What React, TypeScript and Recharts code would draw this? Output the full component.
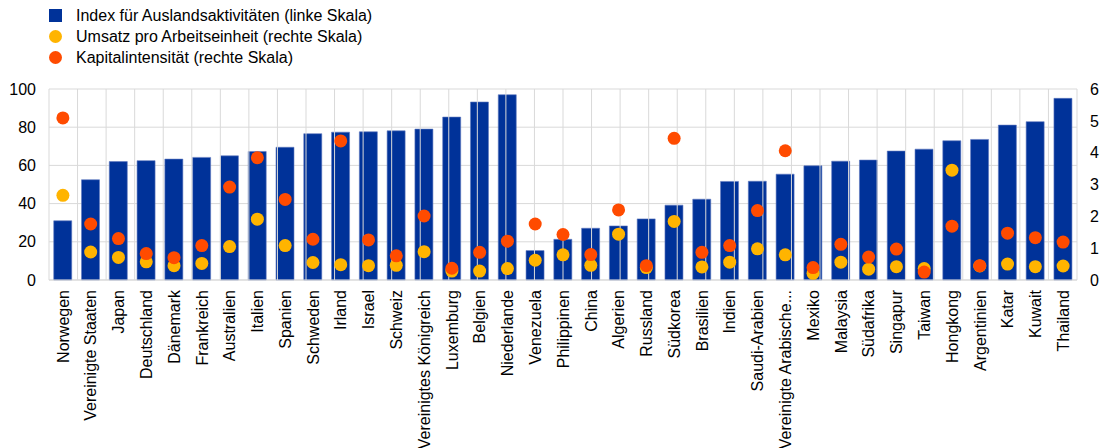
import React from 'react';
import { ComposedChart, Bar, Line, XAxis, YAxis, CartesianGrid, ReferenceLine } from 'recharts';

const laender = [
  'Norwegen', 'Vereinigte Staaten', 'Japan', 'Deutschland', 'Dänemark', 'Frankreich', 'Australien',
  'Italien', 'Spanien', 'Schweden', 'Irland', 'Israel', 'Schweiz', 'Vereinigtes Königreich',
  'Luxemburg', 'Belgien', 'Niederlande', 'Venezuela', 'Philippinen', 'China', 'Algerien',
  'Russland', 'Südkorea', 'Brasilien', 'Indien', 'Saudi-Arabien', 'Vereinigte Arabische...',
  'Mexiko', 'Malaysia', 'Südafrika', 'Singapur', 'Taiwan', 'Hongkong', 'Argentinien',
  'Katar', 'Kuwait', 'Thailand',
];

// linke Skala
const auslandsIndex = [
  31, 52.5, 62, 62.5, 63.3, 64.2, 65, 67.3, 69.5, 76.6, 77.4, 77.6, 78.1, 79, 85.3, 93.2, 97,
  15.4, 21.3, 27.1, 28.3, 32, 39.2, 42.3, 51.6, 51.7, 55.4, 59.8, 62.2, 62.8, 67.5, 68.5,
  72.9, 73.6, 81.1, 82.9, 95.1,
];

// rechte Skala
const umsatz = [
  2.66, 0.88, 0.71, 0.57, 0.45, 0.52, 1.05, 1.91, 1.08, 0.55, 0.48, 0.45, 0.46, 0.89, 0.28,
  0.28, 0.36, 0.62, 0.79, 0.46, 1.44, 0.39, 1.84, 0.41, 0.56, 0.98, 0.79, 0.21, 0.56, 0.34,
  0.42, 0.36, 3.45, 0.44, 0.5, 0.42, 0.44,
];

const kapital = [
  5.09, 1.76, 1.3, 0.83, 0.7, 1.08, 2.92, 3.84, 2.53, 1.28, 4.37, 1.26, 0.76, 2.01, 0.37,
  0.87, 1.22, 1.76, 1.43, 0.8, 2.2, 0.45, 4.45, 0.87, 1.08, 2.18, 4.06, 0.39, 1.12, 0.72,
  0.97, 0.25, 1.69, 0.45, 1.47, 1.33, 1.19,
];

const linksTicks = [0, 20, 40, 60, 80, 100];
const rechtsTicks = [0, 1, 2, 3, 4, 5, 6];
// Grenzen zwischen den Kategorien (fuer das senkrechte Gitter)
const grenzTicks = laender.map((_, i) => i).concat(laender.length);

const BLAU = '#003299';
const GELB = '#FFB400';
const ROT = '#FF4B00';
const GITTER = '#d9d9d9';
const FONT = '"Liberation Sans", Arial, sans-serif';
const SCHRIFT = 16;

const daten = laender.map((land, i) => ({
  land,
  index: auslandsIndex[i],
  umsatz: umsatz[i],
  kapital: kapital[i],
}));

const legendeEintraege = [
  { name: 'Index für Auslandsaktivitäten (linke Skala)', farbe: BLAU, form: 'square' },
  { name: 'Umsatz pro Arbeitseinheit (rechte Skala)', farbe: GELB, form: 'circle' },
  { name: 'Kapitalintensität (rechte Skala)', farbe: ROT, form: 'circle' },
];

const Legende = () => (
  <div style={{ position: 'absolute', left: 49, top: 5, fontFamily: FONT, fontSize: SCHRIFT, color: '#000' }}>
    {legendeEintraege.map((e) => (
      <div key={e.name} style={{ display: 'flex', alignItems: 'center', height: 21, whiteSpace: 'nowrap' }}>
        <span
          style={{
            display: 'inline-block',
            width: 13,
            height: 13,
            background: e.farbe,
            borderRadius: e.form === 'circle' ? '50%' : 0,
            marginRight: 14,
          }}
        />
        <span>{e.name}</span>
      </div>
    ))}
  </div>
);

const LandTick = (props: any) => {
  const { x, y, payload } = props;
  return (
    <text
      x={x}
      y={y}
      transform={`rotate(-90, ${x}, ${y})`}
      textAnchor="end"
      dy="0.36em"
      fontSize={SCHRIFT}
      fontFamily={FONT}
      fill="#000"
    >
      {payload.value}
    </text>
  );
};

const App: React.FC = () => {
  return (
    <div style={{ position: 'absolute', left: 0, top: 0, width: 1101, height: 448 }}>
      <Legende />
      <ComposedChart
        width={1101}
        height={448}
        data={daten}
        margin={{ top: 89, right: 0, bottom: 8, left: 0 }}
        barCategoryGap="17%"
      >
        <CartesianGrid yAxisId="links" vertical={false} stroke={GITTER} strokeWidth={1} />
        <XAxis
          dataKey="land"
          interval={0}
          height={160}
          tick={<LandTick />}
          tickLine={false}
          tickMargin={4}
          axisLine={{ stroke: GITTER }}
        />
        <XAxis
          xAxisId="grenzen"
          type="number"
          domain={[0, laender.length]}
          ticks={grenzTicks}
          hide
        />
        <YAxis
          yAxisId="links"
          width={49}
          domain={[0, 100]}
          ticks={linksTicks}
          axisLine={false}
          tickLine={false}
          tickMargin={7}
          tick={{ fontSize: SCHRIFT, fontFamily: FONT, fill: '#000' }}
        />
        <YAxis
          yAxisId="rechts"
          orientation="right"
          width={24}
          domain={[0, 6]}
          ticks={rechtsTicks}
          axisLine={false}
          tickLine={false}
          tickMargin={7}
          tick={{ fontSize: SCHRIFT, fontFamily: FONT, fill: '#000', textAnchor: 'start' }}
        />
        {grenzTicks.map((g) => (
          <ReferenceLine key={g} xAxisId="grenzen" yAxisId="links" x={g} stroke={GITTER} strokeWidth={1} />
        ))}
        <Bar
          yAxisId="links"
          dataKey="index"
          fill={BLAU}
          stroke="#5f79bf"
          strokeWidth={0.6}
          isAnimationActive={false}
        />
        <Line
          yAxisId="rechts"
          dataKey="umsatz"
          stroke="none"
          dot={{ r: 6.5, fill: GELB, stroke: 'none' }}
          activeDot={false}
          isAnimationActive={false}
        />
        <Line
          yAxisId="rechts"
          dataKey="kapital"
          stroke="none"
          dot={{ r: 6.5, fill: ROT, stroke: 'none' }}
          activeDot={false}
          isAnimationActive={false}
        />
      </ComposedChart>
    </div>
  );
};

export default App;
